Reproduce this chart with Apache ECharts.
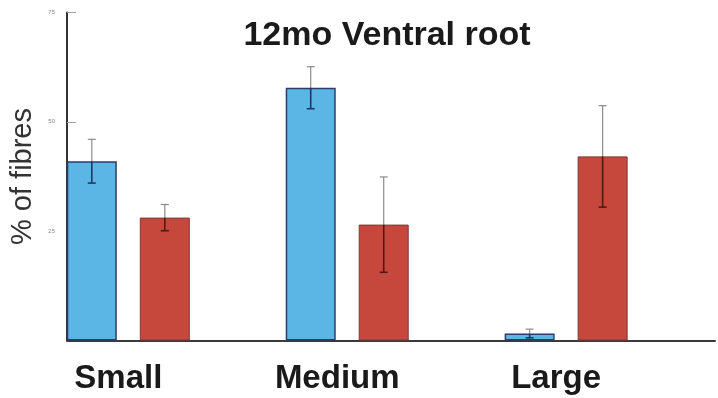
<!DOCTYPE html>
<html>
<head>
<meta charset="utf-8">
<script src="https://cdn.jsdelivr.net/npm/echarts@6/dist/echarts.min.js"></script>
<style>html,body{margin:0;padding:0;background:#fff}#c{width:718px;height:398px}</style>
</head>
<body>
<div id="c"></div>
<script>
// ---- data ----
const categories = ['Small', 'Medium', 'Large'];
const groupPos = [0, 1, 2];
const blueValues = [41.0, 57.8, 1.6];
const blueErrors = [5.0, 4.8, 1.0];
const redValues = [28.1, 26.5, 42.1];
const redErrors = [3.0, 10.9, 11.6];
const yTicks = [0, 25, 50, 75];

// ---- style ----
const BAR_W = 50, GAP_PX = 23;
const OFFSET = (BAR_W + GAP_PX) / 2;

const chart = echarts.init(document.getElementById('c'), null, {renderer: 'canvas'});

function errSeries(vals, errs, sign, lowColor) {
  return {
    type: 'custom',
    z: 10,
    data: groupPos.map((g, i) => [g, vals[i], errs[i]]),
    encode: {x: 0, y: 1},
    renderItem: function (params, api) {
      const x = api.value(0), v = api.value(1), e = api.value(2);
      const c = api.coord([x, v]);
      const top = api.coord([x, v + e]);
      const bot = api.coord([x, Math.max(0, v - e)]);
      const px = c[0] + sign * OFFSET;
      const cap = 4;
      return {
        type: 'group',
        children: [
          {type: 'line', shape: {x1: px, y1: top[1], x2: px, y2: c[1]}, style: {stroke: '#8c8c8c', lineWidth: 1.2}},
          {type: 'line', shape: {x1: px - cap, y1: top[1], x2: px + cap, y2: top[1]}, style: {stroke: '#8c8c8c', lineWidth: 1.2}},
          {type: 'line', shape: {x1: px, y1: c[1], x2: px, y2: bot[1]}, style: {stroke: lowColor, lineWidth: 1.6}},
          {type: 'line', shape: {x1: px - cap, y1: bot[1], x2: px + cap, y2: bot[1]}, style: {stroke: lowColor, lineWidth: 1.6}}
        ]
      };
    }
  };
}

chart.setOption({
  animation: false,
  backgroundColor: '#ffffff',
  title: {
    text: '12mo Ventral root',
    left: 382, top: 14, textAlign: 'center',
    textStyle: {fontFamily: 'Liberation Sans', fontWeight: 'bold', fontSize: 34, color: '#1a1a1a'}
  },
  grid: {left: 67, right: 3, top: 12.5, bottom: 57.5, containLabel: false},
  xAxis: {
    type: 'value',
    min: -0.28, max: 2.68,
    splitLine: {show: false},
    axisTick: {show: false},
    axisLine: {show: true, onZero: false, lineStyle: {color: '#3a3a3a', width: 2}},
    axisLabel: {
      show: true,
      customValues: groupPos,
      formatter: function (v) { return categories[Math.round(v)] || ''; },
      fontFamily: 'Liberation Sans', fontWeight: 'bold', fontSize: 33, color: '#1a1a1a',
      margin: 22, padding: [0, 20, 0, 0]
    }
  },
  yAxis: {
    type: 'value',
    min: yTicks[0], max: yTicks[yTicks.length - 1], interval: 25,
    name: '% of fibres',
    nameLocation: 'middle', nameRotate: 90, nameGap: 29,
    nameTextStyle: {fontFamily: 'Liberation Sans', fontSize: 29, color: '#333'},
    splitLine: {show: false},
    axisLine: {show: true, onZero: false, lineStyle: {color: '#333', width: 2}},
    axisTick: {show: true, inside: true, length: 9, lineStyle: {color: '#9aa0b8', width: 1}},
    axisLabel: {showMinLabel: false, fontSize: 6, color: '#888', margin: 12, fontFamily: 'Liberation Sans'}
  },
  series: [
    {
      type: 'bar', name: 'blue',
      data: groupPos.map((g, i) => [g, blueValues[i]]),
      barWidth: BAR_W, barGap: (GAP_PX / BAR_W * 100) + '%',
      itemStyle: {color: '#5bb6e6', borderColor: '#2c3d6c', borderWidth: 1.5}
    },
    {
      type: 'bar', name: 'red',
      data: groupPos.map((g, i) => [g, redValues[i]]),
      barWidth: BAR_W, barGap: (GAP_PX / BAR_W * 100) + '%',
      itemStyle: {color: '#c6473b', borderColor: '#7a3a3a', borderWidth: 1}
    },
    errSeries(blueValues, blueErrors, -1, '#1d3866'),
    errSeries(redValues, redErrors, 1, '#4e1a14')
  ]
});
</script>
</body>
</html>
